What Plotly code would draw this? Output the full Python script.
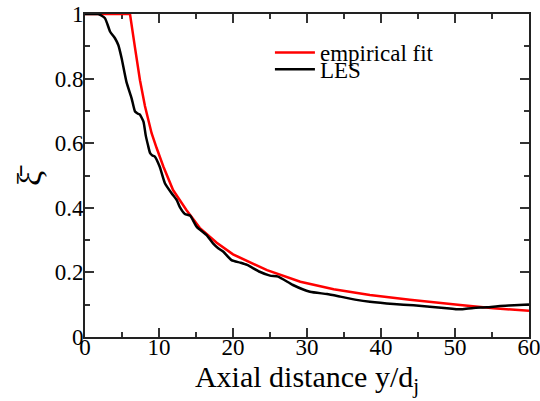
import plotly.graph_objects as go

# LES curve
les_x = [0, 1.0, 1.8, 2.7, 3.4, 4.05, 4.5, 4.95, 5.6, 6.3, 6.76, 7.1, 7.4, 7.9, 8.2, 8.5, 8.8,
         9.1, 9.46, 10.1, 10.8, 11.7, 12.4, 12.8, 13.5, 14.2, 15.1, 16.4, 17.3, 18.0, 18.7,
         19.8, 21.0, 21.9, 23.6, 25.0, 26.1, 28.1, 30.4, 32.7, 34.5, 36.7, 38.5, 41.7,
         44.4, 46.6, 48.9, 50.2, 51.0, 52.5, 54.3, 56.1, 58.0, 60.0]
les_y = [1.0, 1.0, 1.0, 0.987, 0.945, 0.925, 0.904, 0.863, 0.79, 0.739, 0.698, 0.692, 0.689,
         0.667, 0.625, 0.595, 0.569, 0.562, 0.558, 0.527, 0.476, 0.445, 0.424, 0.403, 0.381,
         0.376, 0.341, 0.316, 0.290, 0.275, 0.264, 0.238, 0.230, 0.223, 0.202, 0.190, 0.187,
         0.161, 0.140, 0.133, 0.125, 0.115, 0.109, 0.102, 0.098, 0.094, 0.089, 0.086, 0.086,
         0.090, 0.092, 0.096, 0.098, 0.101]

# empirical fit curve
fit_x = [0, 6.08, 6.76, 7.43, 8.1, 8.56, 9.0, 9.68, 10.6, 11.9, 13.7, 15.5, 17.8, 20.0,
         24.6, 29.1, 33.6, 38.5, 43.9, 50.7, 55.2, 60.0]
fit_y = [1.0, 1.0, 0.895, 0.795, 0.715, 0.670, 0.631, 0.585, 0.527, 0.455, 0.393, 0.338,
         0.292, 0.256, 0.207, 0.171, 0.148, 0.130, 0.115, 0.099, 0.089, 0.081]

x_ticks = [0, 10, 20, 30, 40, 50, 60]
y_ticks = [0, 0.2, 0.4, 0.6, 0.8, 1]
y_tick_text = ["0", "0.2", "0.4", "0.6", "0.8", "1"]

FONT = "Liberation Serif, Times New Roman, serif"

fig = go.Figure()
fig.add_trace(go.Scatter(x=fit_x, y=fit_y, mode="lines", name="empirical fit",
                         legend="legend",
                         line=dict(color="#ff0000", width=2.5)))
fig.add_trace(go.Scatter(x=les_x, y=les_y, mode="lines", name="LES",
                         legend="legend2",
                         line=dict(color="#000000", width=2.5, shape="spline", smoothing=0.5)))

axis_common = dict(
    showline=True, linecolor="#222222", linewidth=2, mirror="allticks",
    ticks="inside", ticklen=9, tickwidth=2, tickcolor="#333333",
    showgrid=False, zeroline=False, layer="below traces", automargin=False,
    ticklabeloverflow="allow",
    tickfont=dict(family=FONT, size=23, color="#000000"),
)

fig.update_xaxes(range=[0, 60], tickvals=x_ticks, ticktext=[str(v) for v in x_ticks],
                 minor=dict(dtick=5, ticks="inside", ticklen=5, tickwidth=2, tickcolor="#333333"),
                 ticklabelstandoff=-12,
                 title=dict(text="Axial distance y/d<sub>j</sub>",
                            font=dict(family=FONT, size=30, color="#000000"), standoff=0),
                 **axis_common)
fig.update_yaxes(range=[0, 1], tickvals=y_ticks, ticktext=y_tick_text,
                 minor=dict(dtick=0.1, ticks="inside", ticklen=5, tickwidth=2, tickcolor="#333333"),
                 ticklabelstandoff=-5,
                 **axis_common)

fig.add_annotation(text="\u03be\u0304", xref="paper", yref="paper", x=-0.125, y=0.5,
                   xanchor="center", yanchor="middle", textangle=-90, showarrow=False,
                   font=dict(family=FONT, size=34, color="#000000"))

leg_common = dict(xanchor="left", yanchor="middle", bgcolor="rgba(0,0,0,0)", borderwidth=0,
                  font=dict(family=FONT, size=23, color="#000000"), itemwidth=40)

fig.update_layout(
    width=540, height=401,
    margin=dict(l=85, r=11, t=14, b=64),
    paper_bgcolor="white", plot_bgcolor="white",
    font=dict(family=FONT, color="#000000"),
    showlegend=True,
    legend=dict(x=0.4165, y=0.881, **leg_common),
    legend2=dict(x=0.4165, y=0.829, **leg_common),
)

fig.write_html("out.html")
